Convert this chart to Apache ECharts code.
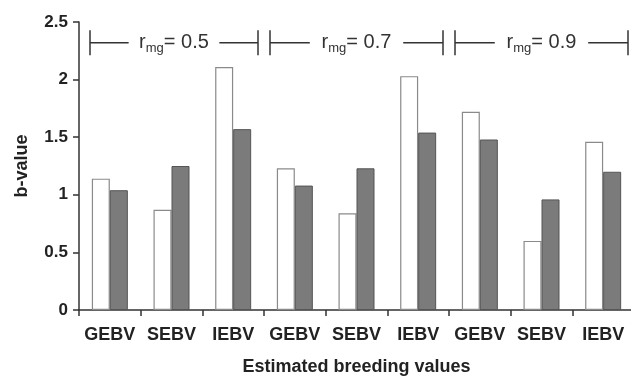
<!DOCTYPE html>
<html>
<head>
<meta charset="utf-8">
<script src="https://cdn.jsdelivr.net/npm/echarts@6/dist/echarts.min.js"></script>
<style>
  html, body { margin: 0; padding: 0; background: #fff; }
  #chart { width: 631px; height: 376px; }
</style>
</head>
<body>
<div id="chart"></div>
<script>
// categories on the x axis (three groups of three)
const categories = ["GEBV", "SEBV", "IEBV", "GEBV", "SEBV", "IEBV", "GEBV", "SEBV", "IEBV"];
// white (open) bars
const openValues = [1.14, 0.87, 2.11, 1.23, 0.84, 2.03, 1.72, 0.60, 1.46];
// grey (filled) bars
const filledValues = [1.04, 1.25, 1.57, 1.08, 1.23, 1.54, 1.48, 0.96, 1.20];
// group brackets: first category, last category, level on the y axis
const groupLabels = ["0.5", "0.7", "0.9"];
const groupStart = [0, 3, 6];
const groupEnd = [2, 5, 8];
const bracketLevel = [2.32, 2.32, 2.32];

const font = 'Arial, "Liberation Sans", sans-serif';
const dark = "#333";

const chart = echarts.init(document.getElementById("chart"));

// bracket "|---- r_mg= x ----|" drawn on top of each group
function renderBracket(params, api) {
  const i = params.dataIndex;
  const catW = api.size([1, 0])[0];
  const p0 = api.coord([api.value(0), api.value(2)]);
  const p1 = api.coord([api.value(1), api.value(2)]);
  const left = p0[0] - catW / 2 + (groupStart[i] === 0 ? 11 : 6);
  const right = p1[0] + catW / 2 - 6;
  const y = p0[1];
  const seg = (right - left) * 0.23;
  const h = 12.5;
  const ls = { stroke: dark, lineWidth: 1.5 };
  return {
    type: "group",
    children: [
      { type: "line", shape: { x1: left, y1: y - h, x2: left, y2: y + h }, style: ls },
      { type: "line", shape: { x1: right, y1: y - h, x2: right, y2: y + h }, style: ls },
      { type: "line", shape: { x1: left, y1: y, x2: left + seg, y2: y }, style: ls },
      { type: "line", shape: { x1: right - seg, y1: y, x2: right, y2: y }, style: ls },
      {
        type: "text",
        x: (left + right) / 2,
        y: y,
        style: {
          text: "{r|r}{s|mg}{r|= " + groupLabels[i] + "}",
          align: "center",
          verticalAlign: "middle",
          fill: dark,
          rich: {
            r: { fontSize: 20, fontFamily: font, lineHeight: 24, fill: dark },
            s: { fontSize: 13, fontFamily: font, lineHeight: 23, verticalAlign: "bottom", fill: dark }
          }
        }
      }
    ]
  };
}

chart.setOption({
  animation: false,
  backgroundColor: "#fff",
  grid: { left: 79, right: -3, top: 22, bottom: 66, outerBoundsMode: "none" },
  xAxis: {
    type: "category",
    data: categories,
    name: "Estimated breeding values",
    nameLocation: "middle",
    nameGap: 48,
    nameTextStyle: { fontSize: 18, fontWeight: "bold", fontFamily: font, color: "#222" },
    axisLine: { lineStyle: { color: dark, width: 1.5 } },
    axisTick: { show: true, interval: 0, length: 6, lineStyle: { color: dark, width: 1.5 } },
    axisLabel: { interval: 0, margin: 16, fontSize: 18, fontWeight: "bold", fontFamily: font, color: "#222" }
  },
  yAxis: {
    type: "value",
    min: 0,
    max: 2.5,
    interval: 0.5,
    name: "b-value",
    nameLocation: "middle",
    nameGap: 48,
    nameTextStyle: { fontSize: 18, fontWeight: "bold", fontFamily: font, color: "#222" },
    axisLine: { show: true, lineStyle: { color: dark, width: 1.5 } },
    axisTick: { show: true, length: 6, lineStyle: { color: dark, width: 1.5 } },
    axisLabel: { margin: 11, fontSize: 17, fontWeight: "bold", fontFamily: font, color: "#222" },
    splitLine: { show: false }
  },
  series: [
    {
      name: "open",
      type: "bar",
      data: openValues,
      barWidth: 18,
      barGap: 0,
      itemStyle: { color: "#fff", borderColor: "#8a8a8a", borderWidth: 1.2 }
    },
    {
      name: "filled",
      type: "bar",
      data: filledValues,
      barWidth: 18,
      barGap: 0,
      itemStyle: { color: "#7b7b7b", borderColor: "#555", borderWidth: 1 }
    },
    {
      type: "custom",
      renderItem: renderBracket,
      clip: false,
      silent: true,
      encode: { x: [0, 1], y: 2 },
      data: groupStart.map((s, i) => [s, groupEnd[i], bracketLevel[i]])
    }
  ]
});
</script>
</body>
</html>
